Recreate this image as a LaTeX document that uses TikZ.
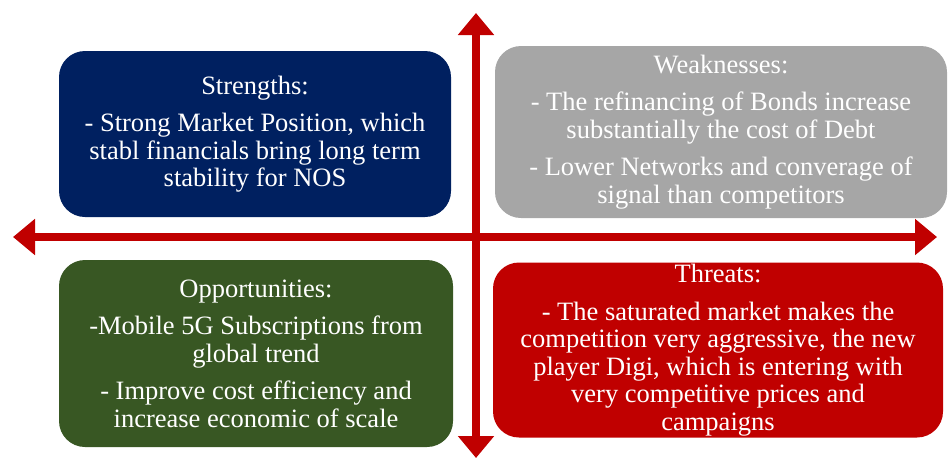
\documentclass[tikz,border=0pt]{standalone}
\usepackage{fontspec}
\setmainfont{Liberation Serif}
\usetikzlibrary{arrows.meta}
\definecolor{navy}{HTML}{002060}
\definecolor{greyw}{HTML}{A6A6A6}
\definecolor{greeno}{HTML}{385723}
\definecolor{redt}{HTML}{C00000}
\begin{document}
\begin{tikzpicture}[x=1pt,y=-1pt,
  quad/.style={rectangle, rounded corners=26pt, text=white, align=center,
    inner sep=0pt, font=\fontsize{26.5}{27.5}\selectfont},
  axis/.style={draw=redt, line width=8pt,
    {Triangle[width=35pt,length=22pt]}-{Triangle[width=35pt,length=22pt]}}
]
\useasboundingbox (0,0) rectangle (949,459);
% axes of the matrix
\coordinate (west) at (13,237);
\coordinate (east) at (937,237);
\coordinate (north) at (476,13);
\coordinate (south) at (476,458);
\draw[axis] (west) -- (east);
\draw[axis] (north) -- (south);
% the four quadrants
\node[quad, fill=navy, minimum width=392pt, minimum height=166pt] (S) at (255,134)
  {Strengths:\\[10pt]- Strong Market Position, which\\stabl financials bring long term\\stability for NOS};
\node[quad, fill=greyw, minimum width=452pt, minimum height=172pt] (W) at (721,132)
  {Weaknesses:\\[10pt]- The refinancing of Bonds increase\\substantially the cost of Debt\\[10pt]- Lower Networks and converage of\\signal than competitors};
\node[quad, fill=greeno, minimum width=394pt, minimum height=187pt] (O) at (256,353.5)
  {Opportunities:\\[10pt]-Mobile 5G Subscriptions from\\global trend\\[10pt]- Improve cost efficiency and\\increase economic of scale};
\node[quad, fill=redt, minimum width=450pt, minimum height=175pt] (T) at (718,350)
  {Threats:\\[10pt]- The saturated market makes the\\competition very aggressive, the new\\player Digi, which is entering with\\very competitive prices and\\campaigns};
\end{tikzpicture}
\end{document}
